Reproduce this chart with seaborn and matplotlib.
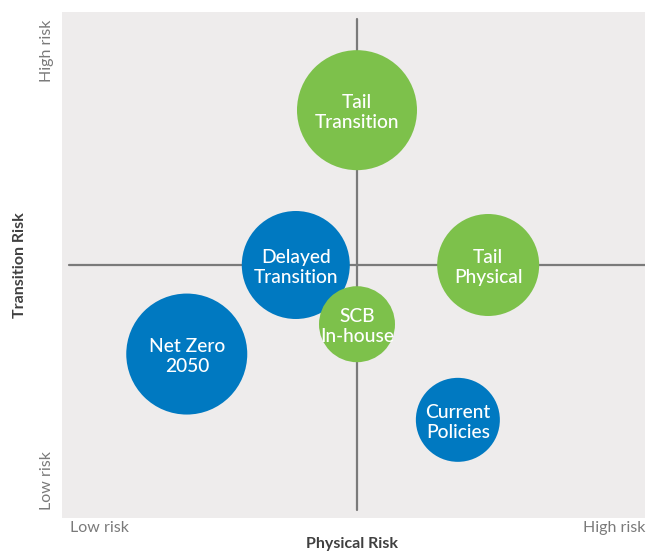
import numpy as np
import pandas as pd
import matplotlib
matplotlib.use("Agg")
import matplotlib.pyplot as plt
import seaborn as sns

# Scenario positions on the risk matrix (0 = low risk, 100 = high risk)
scenarios = ["Tail\nTransition", "Delayed\nTransition", "Tail\nPhysical",
             "Net Zero\n2050", "Current\nPolicies", "SCB\nIn-house"]
physical_risk = [50.6, 40.1, 73.1, 21.4, 67.9, 50.6]
transition_risk = [80.6, 50.0, 50.0, 32.4, 19.4, 38.3]
bubble_radius = [60, 54, 51, 60.5, 42, 38]
group = ["Tail", "NGFS", "Tail", "NGFS", "NGFS", "Tail"]

colours = {"NGFS": "#0079c1", "Tail": "#7dc14b"}

df = pd.DataFrame({"Scenario": scenarios, "Physical": physical_risk,
                   "Transition": transition_risk, "Radius": bubble_radius,
                   "Group": group})

sns.set_style("white")
plt.rcParams["font.family"] = ["Lato", "DejaVu Sans"]

fig = plt.figure(figsize=(6.46, 5.51), dpi=100)
ax = fig.add_axes([62 / 646, 1 - 518 / 551, 583 / 646, 506 / 551])
ax.set_facecolor("#eeecec")

# crosshair
ax.axvline(50.6, ymin=0.016, ymax=0.986, color="#7a7a7a", lw=1.6, zorder=1)
ax.axhline(50.0, xmin=0.012, xmax=1.0, color="#7a7a7a", lw=1.6, zorder=1)

# radius in px -> marker area in pt^2
sizes = (2 * df["Radius"] * 72 / 100) ** 2
sns.scatterplot(data=df, x="Physical", y="Transition", hue="Group",
                palette=colours, s=sizes, linewidth=0, alpha=1,
                legend=False, ax=ax, zorder=2)

for _, row in df.iterrows():
    ax.text(row["Physical"], row["Transition"] - 0.5, row["Scenario"], color="white",
            fontsize=13.8, fontweight="medium", ha="center", va="center",
            linespacing=1.22, zorder=3)

ax.set_xlim(0, 100)
ax.set_ylim(0, 100)
ax.set_xticks([])
ax.set_yticks([])
ax.set_xlabel("")
ax.set_ylabel("")
sns.despine(ax=ax, left=True, bottom=True)

grey = "#7a7a7a"
ax.text(0.014, -0.02, "Low risk", transform=ax.transAxes, ha="left", va="center",
        fontsize=11.5, color=grey)
ax.text(1.0, -0.02, "High risk", transform=ax.transAxes, ha="right", va="center",
        fontsize=11.5, color=grey)
ax.text(-0.026, 0.984, "High risk", transform=ax.transAxes, ha="center", va="top",
        rotation=90, fontsize=11.5, color=grey)
ax.text(-0.026, 0.016, "Low risk", transform=ax.transAxes, ha="center", va="bottom",
        rotation=90, fontsize=11.5, color=grey)

ax.text(0.497, -0.052, "Physical Risk", transform=ax.transAxes, ha="center",
        va="center", fontsize=11.5, fontweight="bold", color="#404040")
ax.text(-0.072, 0.5, "Transition Risk", transform=ax.transAxes, ha="center",
        va="center", rotation=90, fontsize=11.5, fontweight="bold", color="#404040")

fig.savefig("out.png", dpi=100)
